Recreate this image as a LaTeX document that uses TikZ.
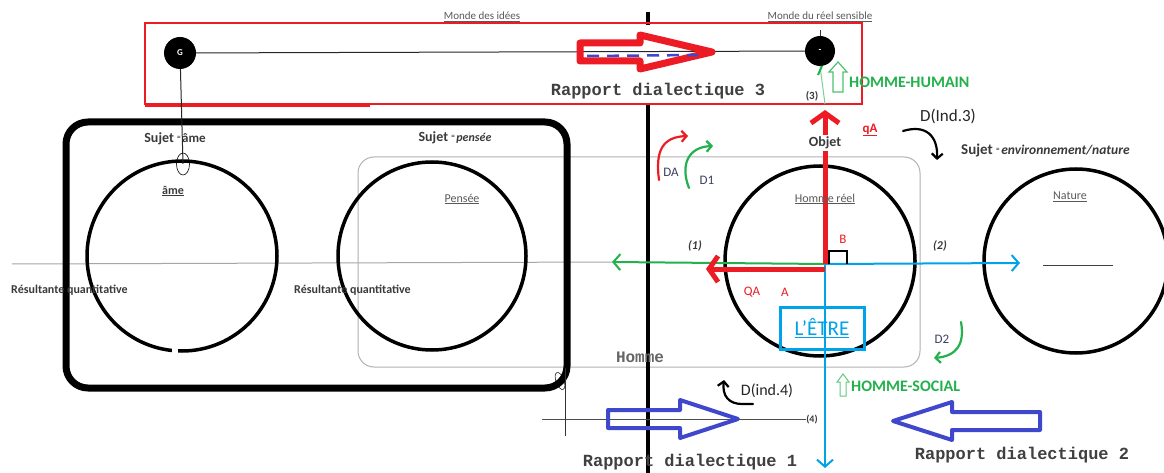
\documentclass[tikz,border=0pt]{standalone}
\usepackage{fontspec}
\setmainfont{Carlito}
\newfontfamily\monofont{Liberation Mono}
\usetikzlibrary{arrows.meta,shapes.geometric}
\definecolor{pred}{HTML}{ED1C24}
\definecolor{pgreen}{HTML}{22B14C}
\definecolor{pblue}{HTML}{00A2E8}
\definecolor{pindigo}{HTML}{3F48CC}
\definecolor{txt}{HTML}{3A3A3A}
\definecolor{dlab}{HTML}{3C4060}
\tikzset{
  lbl/.style={font=\fontsize{12}{14}\selectfont\bfseries, text=txt, inner sep=1pt},
  ttl/.style={font=\fontsize{11}{13}\selectfont, text=black!65, inner sep=1pt},
  rap/.style={font=\monofont\fontsize{17}{20}\selectfont\bfseries, text=black!75, inner sep=1pt},
  bigcirc/.style={draw, circle, line width=3.5pt, inner sep=0pt},
  dotnode/.style={circle, fill=black, inner sep=0pt, minimum size=32pt},
  redlab/.style={font=\fontsize{13}{15}\selectfont, text=pred, inner sep=1pt},
  dlbl/.style={font=\fontsize{13}{15}\selectfont, text=dlab, inner sep=1pt},
  numlab/.style={font=\fontsize{12}{14}\selectfont\bfseries\itshape, text=txt, inner sep=1pt},
  hollow/.style={draw=pindigo, line width=4pt, line join=round},
  barb/.style={-{Straight Barb[length=7pt,width=16pt]}},
  curvy/.style={line width=2.2pt, line cap=round, -{Straight Barb[length=5pt,width=11pt]}},
  greenlab/.style={font=\fontsize{16}{18}\selectfont\bfseries, text=pgreen, inner sep=1pt},
}
\begin{document}
\begin{tikzpicture}[x=1pt,y=-1pt]
\useasboundingbox[fill=white] (0,0) rectangle (1164,473);

% coordinates
\coordinate (O) at (825,264);
\coordinate (vt) at (648,12);
\coordinate (vt2) at (648,25);
\coordinate (vm) at (648,103);
\coordinate (vb) at (648,473);
\coordinate (hl) at (12,264);
\coordinate (greenend) at (612,262);
\coordinate (blueend) at (1020,263);
\coordinate (bluedown) at (825,468);
\coordinate (redtop) at (825,110);
\coordinate (redleft) at (706,269);

% gray horizontal line on the left
\draw[gray!70, line width=1pt] (hl) -- (greenend);

% gray rounded rectangle (Homme)
\draw[gray!60, line width=1pt, rounded corners=16pt] (358,157) rectangle (920,367);

% big circles
\node[bigcirc, minimum size=190pt] (cAme) at (182,256) {};
\node[bigcirc, minimum size=188pt] (cPen) at (432,256) {};
\node[bigcirc, minimum size=190pt] (cHom) at (820,261) {};
\node[bigcirc, minimum size=184pt] (cNat) at (1076,261) {};
\fill[white] (172,346) rectangle (178,356);
\draw[black!75, line width=1pt] (cNat.center) ++(-33,4) coordinate (nl) -- ++(70,0) coordinate (nr);

% thick black rounded rectangle
\draw[line width=7pt, rounded corners=22pt] (66,122) rectangle (567,388);

% vertical black line
\draw[line width=3.5pt] (vt) -- (vt2);
\draw[line width=3.5pt] (vm) -- (vb);

% red rectangle
\draw[pred, line width=2.5pt] (145,23) rectangle (862,104);
\draw[pred, line width=1.5pt] (145,106) -- (370,106);

% black dots and top line
\node[dotnode] (g) at (180,53) {\color{white}\bfseries\fontsize{9}{9}\selectfont G};
\node[dotnode, minimum size=30pt] (s) at (820,51) {\color{white}\bfseries\fontsize{9}{9}\selectfont -};
\draw[black!85, line width=1pt] (g) -- (s);
\draw[black!80, line width=0.6pt] (s.north) -- ++(0,-6);
\node[draw, ellipse, minimum width=13pt, minimum height=22pt, inner sep=0pt, line width=0.6pt] (se) at (183,164) {};
\draw[black!85, line width=1pt] (g) -- (se.center);

% red hollow arrow (Rapport dialectique 3)
\draw[pred, line width=7pt, line join=round] (580,43) -- (640,43) -- (640,35) -- (712,52) -- (640,69) -- (640,61) -- (580,61) -- cycle;
\draw[pindigo, line width=2.5pt, dash pattern=on 12pt off 8pt] (587,56) -- (698,55);

% labels top
\node[ttl] (mi) at (482,17) {\underline{Monde des idées}};
\node[ttl] (mr) at (820,17) {\underline{Monde du réel sensible}};
\node[rap] (r3) at (658,91) {Rapport dialectique 3};
\node[font=\fontsize{11}{13}\selectfont\bfseries, text=txt, inner sep=1pt] (n3) at (812,96) {(3)};

% HOMME-HUMAIN
\draw[pgreen!60, line width=1pt] (s.south) -- (825,104);
\draw[pgreen!80, line width=1.2pt] (833,92) -- (833,72) -- (829,72) -- (838,62) -- (847,72) -- (843,72) -- (843,92) -- cycle;
\draw[pgreen, line width=2pt] (818,75) -- (822,66);
\node[greenlab, anchor=west] (hh) at (848,82) {HOMME-HUMAIN};

% main arrows from O
\draw[pgreen, line width=2pt, barb] (O) -- (greenend);
\draw[pblue, line width=2pt, barb] (O) -- (blueend);
\draw[pblue, line width=2pt, barb] (O) -- (bluedown);
\draw[pred, line width=5pt, -{Straight Barb[length=10pt,width=28pt,line width=5pt]}] (O) -- (redtop);
\draw[pred, line width=5pt, -{Straight Barb[length=9pt,width=26pt,line width=5pt]}] (825,269) -- (redleft);
\draw[line width=1.5pt] (829,264) -- (829,251) -- (847,251) -- (847,264);

% Objet
\node[font=\fontsize{14}{16}\selectfont\bfseries, text=txt, fill=white, inner sep=2pt] (objet) at (825,143) {Objet};
\node[redlab, font=\fontsize{13}{15}\selectfont\bfseries] (qa) at (870,130) {\underline{qA}};

% D(Ind.3)
\node[font=\fontsize{17}{19}\selectfont, text=black!85, inner sep=1pt] (d3) at (948,116) {D(Ind.3)};
\draw[curvy, black] (903,131) .. controls (926,124) and (938,136) .. (937,160);
\node[anchor=west, inner sep=1pt] (sn) at (960,151) {\fontsize{15}{17}\selectfont\bfseries\color{txt}Sujet \fontsize{7}{8}\selectfont\raisebox{3pt}{=} \fontsize{13.5}{15}\selectfont\itshape environnement/nature};

% DA / D1
\draw[curvy, pred] (659,180) .. controls (655,150) and (663,137) .. (688,136);
\draw[curvy, pgreen] (689,188) .. controls (680,165) and (688,147) .. (713,146);
\node[dlbl] (da) at (671,172) {DA};
\node[dlbl] (d1) at (707,180) {D1};

% circle labels
\node[ttl, font=\fontsize{12}{14}\selectfont] (lhr) at (825,199) {\underline{Homme réel}};
\node[ttl, font=\fontsize{12}{14}\selectfont] (lna) at (1070,197) {\underline{Nature}};
\node[ttl, font=\fontsize{12}{14}\selectfont] (lpe) at (462,199) {\underline{Pensée}};
\node[ttl, font=\fontsize{12}{14}\selectfont\bfseries, text=txt] (lam) at (173,191) {\underline{âme}};
\node[inner sep=1pt] (sa) at (175,139) {\fontsize{14}{16}\selectfont\bfseries\color{txt}Sujet \fontsize{7}{8}\selectfont\raisebox{3pt}{=} \fontsize{13}{15}\selectfont âme};
\node[inner sep=1pt] (sp) at (455,138) {\fontsize{14}{16}\selectfont\bfseries\color{txt}Sujet \fontsize{7}{8}\selectfont\raisebox{3pt}{=} \fontsize{12}{14}\selectfont\itshape pensée};
\node[lbl, anchor=west] (rq1) at (10,290) {Résultante quantitative};
\node[lbl, anchor=west] (rq2) at (293,290) {Résultante quantitative};

% numbered labels
\node[numlab] (n1) at (695,246) {(1)};
\node[numlab] (n2) at (940,246) {(2)};
\node[redlab] (lb) at (843,239) {B};
\node[redlab] (lqa) at (752,292) {QA};
\node[redlab] (la) at (785,292) {A};

% L'ETRE
\node[draw=pblue, line width=3pt, text=pblue, font=\fontsize{21}{23}\selectfont, minimum width=84pt, minimum height=42pt, inner sep=2pt] (etre) at (822,328) {\underline{L'ÊTRE}};

% Homme
\node[font=\monofont\fontsize{16}{18}\selectfont\bfseries, text=black!60, inner sep=1pt] (homme) at (640,357) {Homme};

% D2
\node[dlbl] (d2) at (942,339) {D2};
\draw[curvy, pgreen] (961,322) .. controls (965,345) and (956,356) .. (934,358);

% D(ind.4)
\node[font=\fontsize{16}{18}\selectfont, text=black!85, inner sep=1pt] (d4) at (767,391) {D(ind.4)};
\draw[curvy, black] (753,404) -- (742,404) .. controls (729,404) and (722,396) .. (724,380);

% HOMME-SOCIAL
\draw[pgreen!70, line width=1pt] (840,396) -- (840,382) -- (837,382) -- (843,374) -- (849,382) -- (846,382) -- (846,396) -- cycle;
\node[greenlab, anchor=west] (hs) at (850,386) {HOMME-SOCIAL};

% bottom thin lines
\coordinate (bl) at (542,419);
\coordinate (br) at (806,419);
\draw[black!70, line width=1pt] (bl) -- (br);
\node[font=\fontsize{10}{12}\selectfont\bfseries, text=txt, inner sep=1pt] (n4) at (812,420) {(4)};
\draw[black!80, line width=0.6pt] (565,368) -- (565,436);
\node[draw, ellipse, minimum width=8pt, minimum height=18pt, inner sep=0pt, line width=0.5pt, rotate=20] (se2) at (560,381) {};

% blue hollow arrows
\draw[hollow] (608,410) -- (680,410) -- (680,400) -- (738,419) -- (680,438) -- (680,428) -- (608,428) -- cycle;
\draw[hollow] (1040,412) -- (952,412) -- (952,402) -- (893,421) -- (952,440) -- (952,430) -- (1040,430) -- cycle;
\node[rap] (r1) at (690,462) {Rapport dialectique 1};
\node[rap] (r2) at (1022,455) {Rapport dialectique 2};
\end{tikzpicture}
\end{document}
